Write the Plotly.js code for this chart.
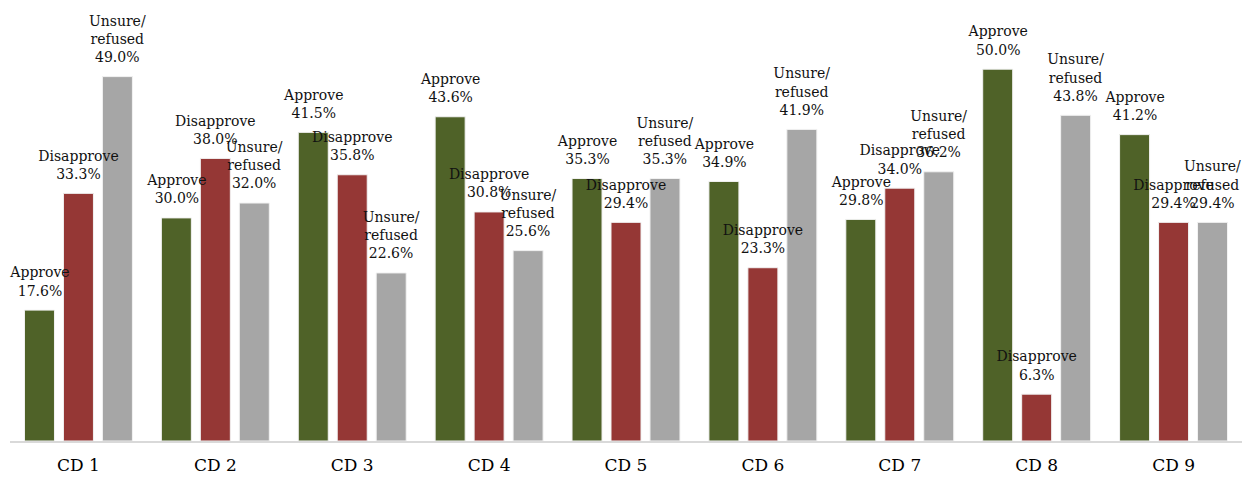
<!DOCTYPE html>
<html>
<head>
<meta charset="utf-8">
<script src="https://cdn.plot.ly/plotly-3.0.1.min.js"></script>
<style>html,body{margin:0;padding:0;background:#fff;}#chart{width:1242px;height:478px;}</style>
</head>
<body>
<div id="chart"></div>
<script>
const categories = ["CD 1","CD 2","CD 3","CD 4","CD 5","CD 6","CD 7","CD 8","CD 9"];
const approve = [17.6, 30.0, 41.5, 43.6, 35.3, 34.9, 29.8, 50.0, 41.2];
const disapprove = [33.3, 38.0, 35.8, 30.8, 29.4, 23.3, 34.0, 6.3, 29.4];
const unsure = [49.0, 32.0, 22.6, 25.6, 35.3, 41.9, 36.2, 43.8, 29.4];

const seriesNames = ["Approve", "Disapprove", "Unsure/refused"];
const seriesValues = [approve, disapprove, unsure];
const seriesColors = ["#4F6228", "#953735", "#A6A6A6"];
const seriesLabels = ["Approve<br>%{y:.1f}%", "Disapprove<br>%{y:.1f}%", "Unsure/<br>refused<br>%{y:.1f}%"];

const serif = "DejaVu Serif, Georgia, serif";
const labelFont = {family: serif, size: 14, color: "#111"};
const labelLift = 1.15; // small gap between bar top and its label (data units)

const data = [];
// bars
seriesNames.forEach((name, i) => {
  data.push({
    type: "bar", name: name, x: categories, y: seriesValues[i],
    offsetgroup: "g" + i,
    marker: {color: seriesColors[i], line: {color: "#f2f2f2", width: 1}},
    hoverinfo: "none"
  });
});
// labels drawn on top of every bar, via transparent bars in the same slots
seriesNames.forEach((name, i) => {
  data.push({
    type: "bar", name: name + " label", x: categories, y: seriesValues[i],
    base: labelLift,
    offsetgroup: "g" + i,
    marker: {color: "rgba(0,0,0,0)", line: {width: 0}},
    texttemplate: seriesLabels[i], textposition: "outside", constraintext: "none",
    cliponaxis: false, textfont: labelFont, hoverinfo: "none"
  });
});

const layout = {
  width: 1242, height: 478,
  margin: {l: 10, r: 0, t: 0, b: 37},
  paper_bgcolor: "#fff", plot_bgcolor: "#fff",
  showlegend: false,
  barmode: "group", bargap: 0.146, bargroupgap: 0.23,
  xaxis: {
    showline: true, linecolor: "#d9d9d9", linewidth: 2,
    ticks: "", showgrid: false, ticklabelstandoff: 8,
    tickfont: {family: serif, size: 17, color: "#000"}
  },
  yaxis: {range: [0, 59.3], visible: false, showgrid: false, zeroline: false, fixedrange: true}
};
Plotly.newPlot("chart", data, layout, {displayModeBar: false, staticPlot: true});
</script>
</body>
</html>
